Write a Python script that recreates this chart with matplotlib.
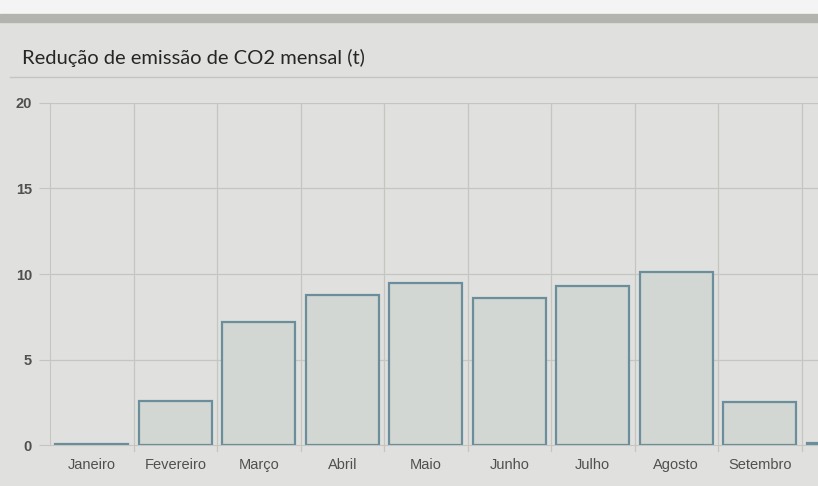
import matplotlib.pyplot as plt
import matplotlib.patches as mpatches
import numpy as np

# ------------------------------ Data -----------------------------------
months = ['Janeiro', 'Fevereiro', 'Março', 'Abril', 'Maio', 'Junho',
          'Julho', 'Agosto', 'Setembro', 'Outubro']
reduction = [0.05, 2.6, 7.2, 8.8, 9.5, 8.6, 9.3, 10.1, 2.5, 0.1]
yticks = [0, 5, 10, 15, 20]
title = 'Redução de emissão de CO2 mensal (t)'

# ------------------------------ Figure -----------------------------------
bg = '#e0e1de'
fig = plt.figure(figsize=(8.18, 4.86), dpi=100, facecolor=bg)

# top strip of the panel (white above, darker edge)
fig.patches.append(mpatches.Rectangle((0, 1 - 14 / 486), 1, 14 / 486,
                                      transform=fig.transFigure, color='#f4f4f4', zorder=0))
fig.patches.append(mpatches.Rectangle((0, 1 - 22 / 486), 1, 8 / 486,
                                      transform=fig.transFigure, color='#b3b4ae', zorder=0))

fig.text(22 / 818, 1 - 58 / 486, title, fontsize=14.5, color='#262626',
         family=['Lato', 'DejaVu Sans'], va='center')
fig.add_artist(plt.Line2D([10 / 818, 1], [1 - 77 / 486, 1 - 77 / 486],
                          transform=fig.transFigure, color='#c4c4c0', lw=1))

ax = fig.add_axes([50 / 818, 41 / 486, 768 / 818, 342 / 486])
ax.set_facecolor(bg)

x = np.arange(len(months))
ax.bar(x, reduction, width=0.88, color='#d2d7d3', edgecolor='#6a8e9b',
       linewidth=1.6, zorder=3)

cell = 83.5
ax.set_xlim(-0.5, -0.5 + 768 / cell)
ax.set_ylim(0, 20)

# only the labels that fall inside the visible part of the chart
shown = [i for i in x if i < -0.5 + 768 / cell]
ax.set_xticks(shown)
ax.set_xticklabels([months[i] for i in shown], fontsize=10.5, color='#505050',
                   family='Liberation Sans')
ax.set_yticks(yticks)
ax.set_yticklabels([str(v) for v in yticks], fontsize=10.5, color='#505050',
                   family='Liberation Sans', fontweight='bold')
ax.tick_params(axis='x', length=0, pad=9)
ax.tick_params(axis='y', length=8, color='#c4c4c0', pad=5)

# grid
for v in yticks[1:]:
    ax.axhline(v, color='#c6c6c0', lw=0.9, zorder=1)
for b in np.arange(0.5, len(months), 1):
    ax.axvline(b, color='#c6c6c0', lw=0.9, zorder=1)
    ax.plot([b, b], [0, -0.35], color='#c6c6c0', lw=0.9, clip_on=False)

for s in ['top', 'right']:
    ax.spines[s].set_visible(False)
ax.spines['left'].set_color('#c6c6c0')
ax.spines['bottom'].set_color('#c6c6c0')

fig.savefig('out.png', dpi=100, facecolor=bg)
